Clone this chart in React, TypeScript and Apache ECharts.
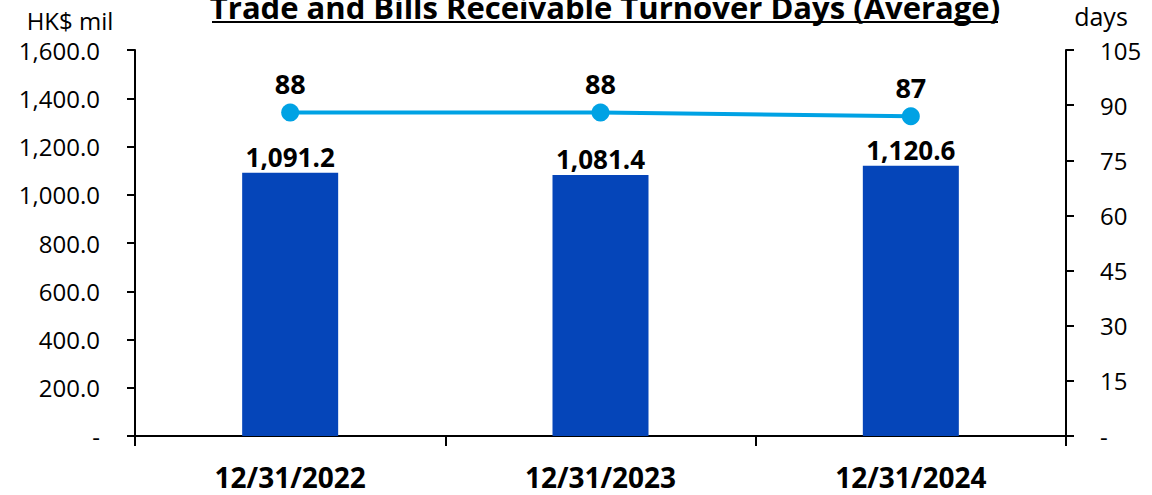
import React, { useEffect, useRef } from "react";
import * as echarts from "echarts";

const categories = ["12/31/2022", "12/31/2023", "12/31/2024"];
const receivables = [1091.2, 1081.4, 1120.6];
const turnoverDays = [88, 88, 87];
const leftTicks = [0, 200, 400, 600, 800, 1000, 1200, 1400, 1600];
const rightTicks = [0, 15, 30, 45, 60, 75, 90, 105];
const titleText = "Trade and Bills Receivable Turnover Days (Average)";
const leftUnit = "HK$ mil";
const rightUnit = "days";

const FONT = "'Open Sans', sans-serif";

export default function App() {
  const ref = useRef<HTMLDivElement>(null);
  useEffect(() => {
    if (!ref.current) return;
    const chart = echarts.init(ref.current, null, { renderer: "svg" });
    const fmtLeft = (v: number) =>
      v === 0 ? "-" : v.toLocaleString("en-US", { minimumFractionDigits: 1, maximumFractionDigits: 1 });
    chart.setOption({
      animation: false,
      textStyle: { fontFamily: FONT },
      grid: { left: 135, right: 86, top: 50, bottom: 59, containLabel: false },
      graphic: [
        {
          type: "text",
          x: 605,
          y: 7,
          style: {
            text: titleText,
            textAlign: "center",
            textVerticalAlign: "middle",
            fontFamily: FONT,
            fontWeight: "bold",
            fontSize: 31,
            fill: "#000",
          },
        },
        {
          type: "line",
          shape: { x1: 212, y1: 22, x2: 998, y2: 22 },
          style: { stroke: "#000", lineWidth: 2 },
        },
        {
          type: "text",
          x: 70,
          y: 20,
          style: {
            text: leftUnit,
            textAlign: "center",
            textVerticalAlign: "middle",
            fontFamily: FONT,
            fontSize: 24,
            lineHeight: 24,
            fill: "#000",
          },
        },
        {
          type: "text",
          x: 1101,
          y: 16,
          style: {
            text: rightUnit,
            textAlign: "center",
            textVerticalAlign: "middle",
            fontFamily: FONT,
            fontSize: 25,
            lineHeight: 25,
            fill: "#000",
          },
        },
      ],
      xAxis: {
        type: "category",
        data: categories,
        boundaryGap: true,
        axisLine: { lineStyle: { color: "#000", width: 2 } },
        axisTick: { show: true, length: 10, lineStyle: { color: "#000", width: 2 } },
        axisLabel: {
          margin: 27,
          fontFamily: FONT,
          fontWeight: "bold",
          fontSize: 28,
          lineHeight: 28,
          color: "#000",
        },
      },
      yAxis: [
        {
          type: "value",
          min: leftTicks[0],
          max: leftTicks[leftTicks.length - 1],
          interval: 200,
          splitLine: { show: false },
          axisLine: { show: true, lineStyle: { color: "#000", width: 2 } },
          axisTick: { show: true, length: 8, lineStyle: { color: "#000", width: 2 } },
          axisLabel: { margin: 35, fontFamily: FONT, fontSize: 24, color: "#000", formatter: fmtLeft },
        },
        {
          type: "value",
          min: rightTicks[0],
          max: rightTicks[rightTicks.length - 1],
          interval: 15,
          splitLine: { show: false },
          axisLine: { show: true, lineStyle: { color: "#000", width: 2 } },
          axisTick: { show: true, length: 8, lineStyle: { color: "#000", width: 2 } },
          axisLabel: {
            margin: 34,
            fontFamily: FONT,
            fontSize: 24,
            color: "#000",
            formatter: (v: number) => (v === 0 ? "-" : String(v)),
          },
        },
      ],
      series: [
        {
          type: "bar",
          data: receivables,
          yAxisIndex: 0,
          barWidth: 96,
          itemStyle: { color: "#0545B9" },
          label: {
            show: true,
            position: "top",
            distance: 3,
            fontFamily: FONT,
            fontWeight: "bold",
            fontSize: 26,
            color: "#000",
            formatter: (p: any) => fmtLeft(p.value),
          },
        },
        {
          type: "line",
          data: turnoverDays,
          yAxisIndex: 1,
          symbol: "circle",
          symbolSize: 18,
          lineStyle: { color: "#00A2E4", width: 4 },
          itemStyle: { color: "#00A2E4" },
          label: {
            show: true,
            position: "top",
            distance: 6,
            fontFamily: FONT,
            fontWeight: "bold",
            fontSize: 27,
            color: "#000",
          },
        },
      ],
    });
    return () => chart.dispose();
  }, []);
  return <div ref={ref} style={{ width: 1152, height: 495, position: "absolute", left: 0, top: 0 }} />;
}
